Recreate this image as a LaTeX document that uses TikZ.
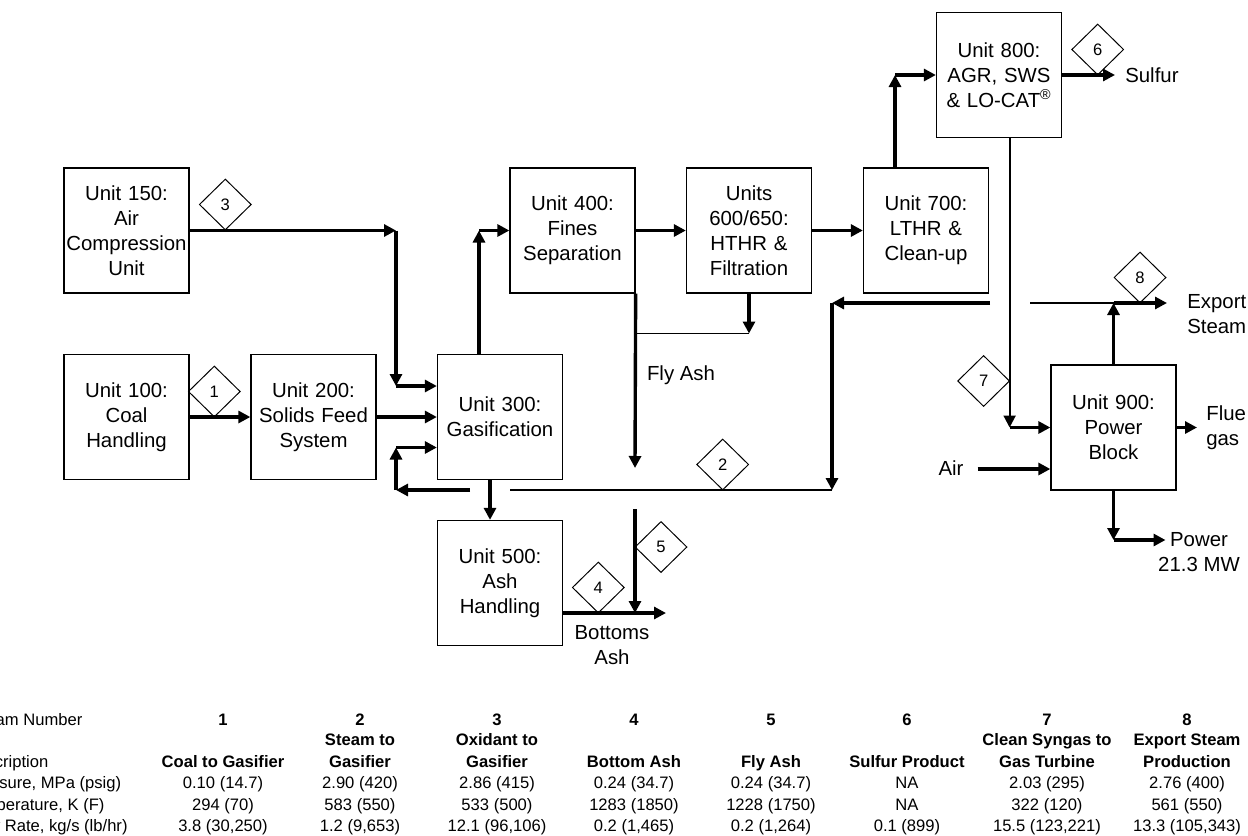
\documentclass[tikz,border=0pt]{standalone}
\usepackage{fontspec}
\setmainfont{Liberation Sans}
\usetikzlibrary{arrows.meta, positioning, shapes.geometric}

\begin{document}
\begin{tikzpicture}[
    x=0.025cm, y=-0.025cm,
    unit/.style={draw, line width=0.9pt, inner sep=0pt, minimum width=3.125cm,
                 minimum height=3.125cm, text width=3.1cm, align=center,
                 font=\fontsize{14.5}{17.8}\selectfont},
    tag/.style={draw, diamond, line width=0.7pt, inner sep=0pt, minimum width=1.3cm,
                minimum height=1.275cm, font=\fontsize{11.8}{14}\selectfont},
    flow/.style={line width=2.4pt, -{Triangle[length=0.3cm, width=0.3cm]}},
    pipe/.style={line width=1pt},
    lbl/.style={inner sep=0pt, font=\fontsize{14.5}{17.8}\selectfont},
    cell/.style={inner sep=0pt, anchor=base, font=\fontsize{11.8}{15.2}\selectfont},
    head/.style={cell, align=center, font=\fontsize{11.8}{15.2}\selectfont\bfseries},
  ]
    \useasboundingbox (0,0) rectangle (1248,835);
    \clip (0,0) rectangle (1248,835);

    % process units
    \node[unit] (u150) at (126.5,230.5) {Unit 150:\\Air\\Compression\\Unit};
    \node[unit] (u100) at (126.5,417) {Unit 100:\\Coal\\Handling};
    \node[unit] (u200) at (313.5,417) {Unit 200:\\Solids Feed\\System};
    \node[unit] (u300) at (500,417) {Unit 300:\\Gasification};
    \node[unit] (u400) at (572.5,230.5) {Unit 400:\\Fines\\Separation};
    \node[unit] (u600) at (749,230.5) {Units\\600/650:\\HTHR \&\\Filtration};
    \node[unit] (u700) at (926,230.5) {Unit 700:\\LTHR \&\\Clean-up};
    \node[unit] (u800) at (999,75) {Unit 800:\\AGR, SWS\\\& LO-CAT\textsuperscript{®}};
    \node[unit] (u500) at (500,583) {Unit 500:\\Ash\\Handling};
    \node[unit] (u900) at (1113.5,427.5) {Unit 900:\\Power\\Block};

    % corner points
    \coordinate (c3a) at (396,230.5);
    \coordinate (c3b) at (396,386);
    \coordinate (g3) at (479,230.5);
    \coordinate (s7) at (895,75);
    \coordinate (s7a) at (1009.6,427.5);
    \coordinate (s8) at (1113.5,303);
    \coordinate (r1) at (1030,303);
    \coordinate (r2) at (990,303);
    \coordinate (r3) at (832,303);
    \coordinate (r4) at (832,490);
    \coordinate (r5) at (510,490);
    \coordinate (r6) at (470,490);
    \coordinate (r7) at (396,490);
    \coordinate (r8) at (396,447.5);
    \coordinate (bx) at (490,500);
    \coordinate (fa1) at (635,468);
    \coordinate (fa2) at (635,509);
    \coordinate (fa3) at (635,613);
    \coordinate (fb) at (749,333.5);
    \coordinate (batip) at (666,613);
    \coordinate (sultip) at (1115,75);
    \coordinate (airtail) at (977.5,469);
    \coordinate (fluetip) at (1197,427.5);
    \coordinate (exptip) at (1167,303);
    \coordinate (pw) at (1113.5,540);
    \coordinate (pwtip) at (1165.5,540);

    % streams
    \draw[flow] (u150.east) -- (c3a);
    \draw[flow] (c3a) -- (c3b);
    \draw[flow] (c3b) -- (c3b -| u300.west);
    \draw[flow] (u100.east) -- (u200.west);
    \draw[flow] (u200.east) -- (u300.west);
    \draw[flow] (g3 |- u300.north) -- (g3);
    \draw[flow] (g3) -- (u400.west);
    \draw[flow] (u400.east) -- (u600.west);
    \draw[flow] (u600.east) -- (u700.west);
    \draw[flow] (s7 |- u700.north) -- (s7);
    \draw[flow] (s7) -- (u800.west);
    \draw[flow] (u800.east) -- (sultip);
    \draw[flow, line width=1.5pt] (s7a |- u800.south) -- (s7a);
    \draw[flow] (s7a) -- (u900.west);
    \draw[flow] (airtail) -- (airtail -| u900.west);
    \draw[flow] (u900.east) -- (fluetip);
    \draw[flow] (u900.north) -- (s8);
    \draw[flow] (s8) -- (exptip);
    \draw[flow] (u900.south) -- (pw);
    \draw[flow] (pw) -- (pwtip);
    \draw[pipe] (s8) -- (r1);
    \draw[flow] (r2) -- (r3);
    \draw[flow] (r3) -- (r4);
    \draw[pipe] (r4) -- (r5);
    \draw[flow] (r6) -- (r7);
    \draw[flow] (r7) -- (r8);
    \draw[flow] (r8) -- (r8 -| u300.west);
    \draw[flow] (bx |- u300.south) -- (bx |- u500.north);
    \draw[flow] (u400.south east) -- (fa1);
    \draw[flow] (fa2) -- (fa3);
    \draw[flow] (u600.south) -- (fb);
    \draw[pipe] (fb) -- (fb -| u400.south east);
    \draw[flow] (fa3 -| u500.east) -- (batip);

    % stream tags
    \node[tag] (d1) at (214.3,391.5) {1};
    \node[tag] (d2) at (722.7,464.5) {2};
    \node[tag] (d3) at (225.3,204.5) {3};
    \node[tag] (d4) at (598.3,587.5) {4};
    \node[tag] (d5) at (661,547) {5};
    \node[tag] (d6) at (1097.7,49.5) {6};
    \node[tag] (d7) at (983.6,381) {7};
    \node[tag] (d8) at (1140,277.5) {8};

    % free labels
    \node[lbl, anchor=west] (sulfur) at (1125,75) {Sulfur};
    \node[lbl] (flyash) at (681,375) {Fly Ash};
    \node[lbl, align=center] (bottoms) at (612,645.5) {Bottoms\\Ash};
    \node[lbl] (air) at (951,468) {Air};
    \node[lbl, anchor=west, align=left] (flue) at (1206,427.5) {Flue\\gas};
    \node[lbl, anchor=west, align=left] (export) at (1187,314.5) {Export\\Steam};
    \node[lbl, align=center] (power) at (1199,552.5) {Power\\21.3 MW};

    % stream table
    \node[cell, anchor=base west] (rn) at (-35,725) {Stream Number};
    \node[cell, anchor=base west] (rd) at (-35,767) {Description};
    \node[cell, anchor=base west] (rp) at (-35,788.5) {Pressure, MPa (psig)};
    \node[cell, anchor=base west] (rt) at (-35,810) {Temperature, K (F)};
    \node[cell, anchor=base west] (rf) at (-35,831) {Flow Rate, kg/s (lb/hr)};
    \foreach \n/\x/\d/\p/\t/\f in {
        1/223/Coal to Gasifier/0.10 (14.7)/294 (70)/{3.8 (30,250)},
        2/360/Steam to\\Gasifier/2.90 (420)/583 (550)/{1.2 (9,653)},
        3/497/Oxidant to\\Gasifier/2.86 (415)/533 (500)/{12.1 (96,106)},
        4/634/Bottom Ash/0.24 (34.7)/1283 (1850)/{0.2 (1,465)},
        5/771/Fly Ash/0.24 (34.7)/1228 (1750)/{0.2 (1,264)},
        6/907/Sulfur Product/NA/NA/0.1 (899),
        7/1047/Clean Syngas to\\Gas Turbine/2.03 (295)/322 (120)/{15.5 (123,221)},
        8/1187/Export Steam\\Production/2.76 (400)/561 (550)/{13.3 (105,343)}}
    {
      \node[head] (sn\n) at (\x,725) {\n};
      \node[head] (sd\n) at (\x,767) {\d};
      \node[cell] (sp\n) at (\x,788.5) {\p};
      \node[cell] (st\n) at (\x,810) {\t};
      \node[cell] (sf\n) at (\x,831) {\f};
    }
  \end{tikzpicture}
\end{document}
